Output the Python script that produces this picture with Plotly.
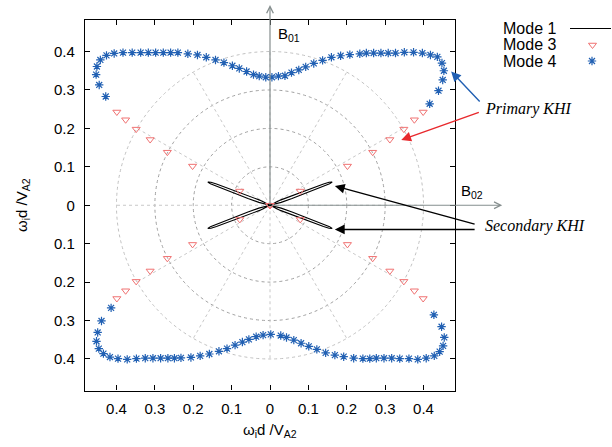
import numpy as np
import plotly.graph_objects as go

# ---------------- data ----------------
# Mode 1: one lobe (first quadrant), propagation angle (deg) and growth rate
mode1_theta = [20.5, 14.5, 17.0, 18.3, 19.0, 19.4, 19.8, 20.5, 21.2, 21.6, 22.0, 22.7, 24.0, 26.5, 20.5]
mode1_rate = [0.0, 0.03, 0.06, 0.09, 0.12, 0.15, 0.165, 0.173, 0.165, 0.15, 0.12, 0.09, 0.06, 0.03, 0.0]

# Mode 3: first quadrant, angle (deg) and growth rate
mode3_theta = [0.0, 25.1, 26.8, 27.3, 28.7, 29.6, 30.6, 31.3]
mode3_rate = [0.0, 0.087, 0.226, 0.301, 0.356, 0.401, 0.437, 0.467]

# Mode 4: upper branch
mode4_up_x = [-0.428, -0.445, -0.453, -0.451, -0.442, -0.426, -0.406, -0.383, -0.359, -0.337,
              -0.317, -0.298, -0.278, -0.259, -0.240, -0.214, -0.189, -0.166, -0.142, -0.120,
              -0.098, -0.080, -0.061, -0.043, -0.028, -0.011, 0.005, 0.022, 0.039, 0.056,
              0.075, 0.093, 0.114, 0.137, 0.160, 0.184, 0.208, 0.234, 0.251, 0.270,
              0.289, 0.308, 0.327, 0.350, 0.374, 0.397, 0.418, 0.436, 0.448, 0.453,
              0.450, 0.439, 0.416]
mode4_up_y = [0.283, 0.313, 0.340, 0.361, 0.378, 0.390, 0.395, 0.397, 0.397, 0.397,
              0.397, 0.397, 0.397, 0.397, 0.397, 0.394, 0.391, 0.385, 0.378, 0.371,
              0.363, 0.356, 0.348, 0.340, 0.336, 0.333, 0.333, 0.336, 0.337, 0.345,
              0.352, 0.360, 0.369, 0.377, 0.385, 0.389, 0.392, 0.394, 0.396, 0.396,
              0.396, 0.396, 0.396, 0.398, 0.398, 0.396, 0.391, 0.386, 0.370, 0.350,
              0.326, 0.298, 0.264]
# Mode 4: lower branch
mode4_lo_x = [-0.414, -0.439, -0.449, -0.452, -0.446, -0.434, -0.417, -0.396, -0.372, -0.348,
              -0.325, -0.305, -0.285, -0.266, -0.249, -0.232, -0.206, -0.182, -0.158, -0.133,
              -0.112, -0.091, -0.072, -0.055, -0.036, -0.018, 0.002, 0.028, 0.043, 0.062,
              0.081, 0.101, 0.122, 0.145, 0.169, 0.192, 0.218, 0.242, 0.260, 0.277,
              0.297, 0.317, 0.338, 0.362, 0.385, 0.407, 0.428, 0.442, 0.451, 0.454,
              0.447, 0.427]
mode4_lo_y = [-0.267, -0.301, -0.331, -0.354, -0.373, -0.386, -0.395, -0.399, -0.401, -0.399,
              -0.398, -0.398, -0.398, -0.398, -0.398, -0.397, -0.396, -0.392, -0.387, -0.380,
              -0.373, -0.364, -0.356, -0.349, -0.342, -0.338, -0.336, -0.339, -0.344, -0.351,
              -0.359, -0.367, -0.375, -0.384, -0.390, -0.394, -0.398, -0.399, -0.399, -0.398,
              -0.398, -0.398, -0.399, -0.399, -0.401, -0.398, -0.392, -0.381, -0.366, -0.344,
              -0.316, -0.285]

tick_vals = [-0.4, -0.3, -0.2, -0.1, 0.0, 0.1, 0.2, 0.3, 0.4]
tick_text = ["0.4", "0.3", "0.2", "0.1", "0", "0.1", "0.2", "0.3", "0.4"]
grid_radii = [0.1, 0.2, 0.3, 0.4]
grid_angles = [0, 30, 60, 90, 120, 150, 180, 210, 240, 270, 300, 330]

legend_names = ["Mode 1", "Mode 3", "Mode 4"]

# ---------------- build ----------------
W, H = 612, 447
SANS = "Liberation Sans, Arial, sans-serif"
SERIF = "Liberation Serif, Times New Roman, serif"
BLUE = "#2160b3"
PINK = "#f07272"
GREY = "#858e8e"


def quadrants(theta_deg, rate, close_sep=False):
    xs, ys = [], []
    for q in range(4):
        for t, r in zip(theta_deg, rate):
            if q == 0:
                a = t
            elif q == 1:
                a = 180 - t
            elif q == 2:
                a = 180 + t
            else:
                a = 360 - t
            xs.append(float(r * np.cos(np.radians(a))))
            ys.append(float(r * np.sin(np.radians(a))))
        if close_sep:
            xs.append(None)
            ys.append(None)
    return xs, ys


m1x, m1y = quadrants(mode1_theta, mode1_rate, close_sep=True)
m3x, m3y = quadrants(mode3_theta, mode3_rate)

fig = go.Figure()

fig.add_trace(go.Scatter(x=m1x, y=m1y, mode="lines", line=dict(color="black", width=1.1),
                         name="Mode 1", showlegend=False, hoverinfo="skip"))
fig.add_trace(go.Scatter(x=m3x, y=m3y, mode="markers", name="Mode 3", showlegend=False,
                         marker=dict(symbol="triangle-down-open", size=7, color=PINK,
                                     line=dict(color=PINK, width=1))))
fig.add_trace(go.Scatter(x=mode4_up_x + [None] + mode4_lo_x, y=mode4_up_y + [None] + mode4_lo_y,
                         mode="markers", name="Mode 4", showlegend=False,
                         marker=dict(symbol="asterisk-open", size=7, color=BLUE,
                                     line=dict(color=BLUE, width=1.2))))

# legend samples on a full-figure pixel axis
fig.add_trace(go.Scatter(x=[592.5], y=[45], xaxis="x2", yaxis="y2", mode="markers",
                         showlegend=False, hoverinfo="skip",
                         marker=dict(symbol="triangle-down-open", size=7, color=PINK,
                                     line=dict(color=PINK, width=1))))
fig.add_trace(go.Scatter(x=[592], y=[61], xaxis="x2", yaxis="y2", mode="markers",
                         showlegend=False, hoverinfo="skip",
                         marker=dict(symbol="asterisk-open", size=7, color=BLUE,
                                     line=dict(color=BLUE, width=1.2))))

shapes = []
for r in grid_radii:
    shapes.append(dict(type="circle", xref="x", yref="y", x0=-r, y0=-r, x1=r, y1=r,
                       line=dict(color="#a0a0a0" if r < 0.4 else "#c0c0c0", width=1, dash="dot"),
                       layer="below"))
rmax = max(grid_radii)
for a in grid_angles:
    shapes.append(dict(type="line", xref="x", yref="y", x0=0, y0=0,
                       x1=float(rmax * np.cos(np.radians(a))), y1=float(rmax * np.sin(np.radians(a))),
                       line=dict(color="#c8c8c8", width=1, dash="dot"), layer="below"))
# legend line sample for Mode 1
shapes.append(dict(type="line", xref="paper", yref="paper", x0=570 / W, x1=611 / W,
                   y0=1 - 28.5 / H, y1=1 - 28.5 / H, line=dict(color="black", width=1.1)))

ann = []
# B01 / B02 axis arrows
ann.append(dict(x=0, y=0.521, ax=0, ay=0, xref="x", yref="y", axref="x", ayref="y", text="",
                showarrow=True, arrowhead=5, arrowsize=1.1, arrowwidth=1.2, arrowcolor=GREY,
                standoff=0, startstandoff=0))
ann.append(dict(x=0.605, y=0, ax=0, ay=0, xref="x", yref="y", axref="x", ayref="y", text="",
                showarrow=True, arrowhead=5, arrowsize=1.1, arrowwidth=1.2, arrowcolor=GREY,
                standoff=0, startstandoff=0))
ann.append(dict(x=276 / W, y=1 - 34 / H, xref="paper", yref="paper", text="B<sub>01</sub>",
                showarrow=False, xanchor="left", yanchor="middle", font=dict(family=SANS, size=15, color="black")))
ann.append(dict(x=459 / W, y=1 - 191 / H, xref="paper", yref="paper", text="B<sub>02</sub>",
                showarrow=False, xanchor="left", yanchor="middle", font=dict(family=SANS, size=15, color="black")))

# KHI annotations
ann.append(dict(x=483 / W, y=1 - 109 / H, xref="paper", yref="paper", text="<i>Primary KHI</i>",
                showarrow=False, xanchor="left", yanchor="middle", font=dict(family=SERIF, size=16, color="black")))
ann.append(dict(x=483 / W, y=1 - 226 / H, xref="paper", yref="paper", text="<i>Secondary KHI</i>",
                showarrow=False, xanchor="left", yanchor="middle", font=dict(family=SERIF, size=16, color="black")))
arrows = [
    (0.472, 0.348, 0.550, 0.266, BLUE),
    (0.342, 0.170, 0.548, 0.243, "#e8282c"),
    (0.169, 0.050, 0.537, -0.050, "black"),
    (0.169, -0.063, 0.537, -0.063, "black"),
]
for hx, hy, tx, ty, c in arrows:
    ann.append(dict(x=hx, y=hy, ax=tx, ay=ty, xref="x", yref="y", axref="x", ayref="y", text="",
                    showarrow=True, arrowhead=2, arrowsize=1.4, arrowwidth=1.4, arrowcolor=c,
                    standoff=0, startstandoff=0))

# axis titles
ann.append(dict(x=270 / W, y=1 - 430 / H, xref="paper", yref="paper",
                text="ω<sub>i</sub>d /V<sub>A2</sub>", showarrow=False, xanchor="center", yanchor="middle",
                font=dict(family=SANS, size=15, color="black")))
ann.append(dict(x=22 / W, y=1 - 205 / H, xref="paper", yref="paper",
                text="ω<sub>i</sub>d /V<sub>A2</sub>", showarrow=False, xanchor="center", yanchor="middle",
                textangle=-90, font=dict(family=SANS, size=15, color="black")))

# legend texts
for name, py in zip(legend_names, [28.5, 45, 61]):
    ann.append(dict(x=558 / W, y=1 - py / H, xref="paper", yref="paper", text=name, showarrow=False,
                    xanchor="right", yanchor="middle", font=dict(family=SANS, size=16, color="black")))

R = 0.482
axis_common = dict(range=[-R, R], tickvals=tick_vals, ticktext=tick_text, ticks="inside", ticklen=5,
                   tickwidth=1, tickcolor="black", showline=True, linecolor="black", linewidth=1.2,
                   mirror="ticks", showgrid=False, zeroline=False, automargin=False,
                   tickfont=dict(family=SANS, size=15, color="black"))

fig.update_layout(
    width=W, height=H,
    margin=dict(l=0, r=0, t=0, b=0),
    paper_bgcolor="white", plot_bgcolor="rgba(0,0,0,0)",
    showlegend=False,
    xaxis=dict(domain=[85 / W, 455 / W], anchor="y", ticklabelstandoff=4, **axis_common),
    yaxis=dict(domain=[1 - 390.5 / H, 1 - 20 / H], anchor="x", ticklabelstandoff=6, **axis_common),
    xaxis2=dict(domain=[0, 1], range=[0, W], anchor="y2", visible=False, fixedrange=True),
    yaxis2=dict(domain=[0, 1], range=[H, 0], anchor="x2", visible=False, fixedrange=True),
    shapes=shapes,
    annotations=ann,
)

fig.write_html("out.html", config={"displayModeBar": False},
               post_script="document.body.style.margin='0';")
